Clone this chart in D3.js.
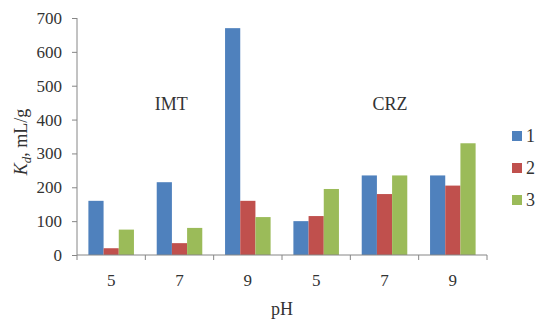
<!DOCTYPE html>
<html>
<head>
<meta charset="utf-8">
<script src="https://cdn.jsdelivr.net/npm/d3@7"></script>
<style>
  body { margin: 0; background: #fff; }
  text { font-family: "Liberation Serif", "DejaVu Serif", serif; fill: #333; }
</style>
</head>
<body>
<svg id="chart" width="550" height="328"></svg>
<script>
// categories (pH within each sorbent group)
var phLabels = ["5", "7", "9", "5", "7", "9"];
var seriesNames = ["1", "2", "3"];
var series1 = [160, 215, 670, 100, 235, 235];
var series2 = [20, 35, 160, 115, 180, 205];
var series3 = [75, 80, 112, 195, 235, 330];
var yTicks = [0, 100, 200, 300, 400, 500, 600, 700];
// sorbent labels, anchored in category units along the x axis
var groupLabels = [{ name: "IMT", at: 1.38 }, { name: "CRZ", at: 4.58 }];

var colors = ["#4f81bd", "#c0504d", "#9bbb59"];
var allSeries = [series1, series2, series3];

var margin = { top: 18, right: 63, bottom: 73, left: 77 };
var width = 550 - margin.left - margin.right;
var height = 328 - margin.top - margin.bottom;

var svg = d3.select("#chart");
var g = svg.append("g").attr("transform", "translate(" + margin.left + "," + margin.top + ")");

var idx = phLabels.map(function(d, i) { return i; });

var x = d3.scaleBand().domain(idx).range([0, width]).paddingInner(0).paddingOuter(0);
// gap width 150% -> bar = band / 4.5
var barW = x.bandwidth() / 4.5;
var x1 = d3.scaleBand().domain([0, 1, 2]).range([0, barW * 3]);

var y = d3.scaleLinear().domain([0, 700]).range([height, 0]);

// bars
allSeries.forEach(function(vals, s) {
  g.selectAll(".bar-" + s)
    .data(vals)
    .enter()
    .append("rect")
    .attr("class", "bar-" + s)
    .attr("x", function(d, i) { return x(i) + barW * 0.75 + x1(s); })
    .attr("y", function(d) { return y(d); })
    .attr("width", x1.bandwidth())
    .attr("height", function(d) { return height - y(d); })
    .attr("fill", colors[s]);
});

// y axis
var yAxis = d3.axisLeft(y).tickValues(yTicks).tickSize(5).tickPadding(10);
var yg = g.append("g").call(yAxis);
yg.select(".domain").attr("stroke", "#868686").attr("d", "M0," + height + "V0");
yg.selectAll(".tick line").attr("stroke", "#868686");
yg.selectAll("text").attr("font-size", 17).style("font-family", "Liberation Serif").attr("fill", "#333");

// x axis with boundary ticks
var xg = g.append("g").attr("transform", "translate(0," + height + ")");
xg.append("line").attr("x1", 0).attr("x2", width).attr("stroke", "#868686");
xg.selectAll(".xt")
  .data(d3.range(phLabels.length + 1))
  .enter()
  .append("line")
  .attr("x1", function(i) { return i * x.step(); })
  .attr("x2", function(i) { return i * x.step(); })
  .attr("y1", 0).attr("y2", 5)
  .attr("stroke", "#868686");
xg.selectAll(".xl")
  .data(phLabels)
  .enter()
  .append("text")
  .attr("x", function(d, i) { return x(i) + x.bandwidth() / 2; })
  .attr("y", 31)
  .attr("text-anchor", "middle")
  .attr("font-size", 17)
  .text(function(d) { return d; });

// axis titles
svg.append("text")
  .attr("x", margin.left + width / 2)
  .attr("y", 315)
  .attr("text-anchor", "middle")
  .attr("font-size", 18)
  .text("pH");

var yt = svg.append("text")
  .attr("transform", "translate(27,142) rotate(-90)")
  .attr("text-anchor", "middle")
  .attr("font-size", 18);
yt.append("tspan").attr("font-style", "italic").text("K");
yt.append("tspan").attr("font-style", "italic").attr("font-size", 13).attr("dy", 4).text("d");
yt.append("tspan").attr("dy", -4).text(", mL/g");

// group labels
g.selectAll(".grp")
  .data(groupLabels)
  .enter()
  .append("text")
  .attr("x", function(d) { return d.at * x.step(); })
  .attr("y", y(400) - 10)
  .attr("text-anchor", "middle")
  .attr("font-size", 18)
  .text(function(d) { return d.name; });

// legend
var leg = svg.append("g").attr("transform", "translate(512,136)");
seriesNames.forEach(function(n, i) {
  var row = leg.append("g").attr("transform", "translate(0," + (i * 32) + ")");
  row.append("rect").attr("x", 0).attr("y", -5).attr("width", 10).attr("height", 10).attr("fill", colors[i]);
  row.append("text").attr("x", 14).attr("y", 6).attr("font-size", 18).text(n);
});
</script>
</body>
</html>
